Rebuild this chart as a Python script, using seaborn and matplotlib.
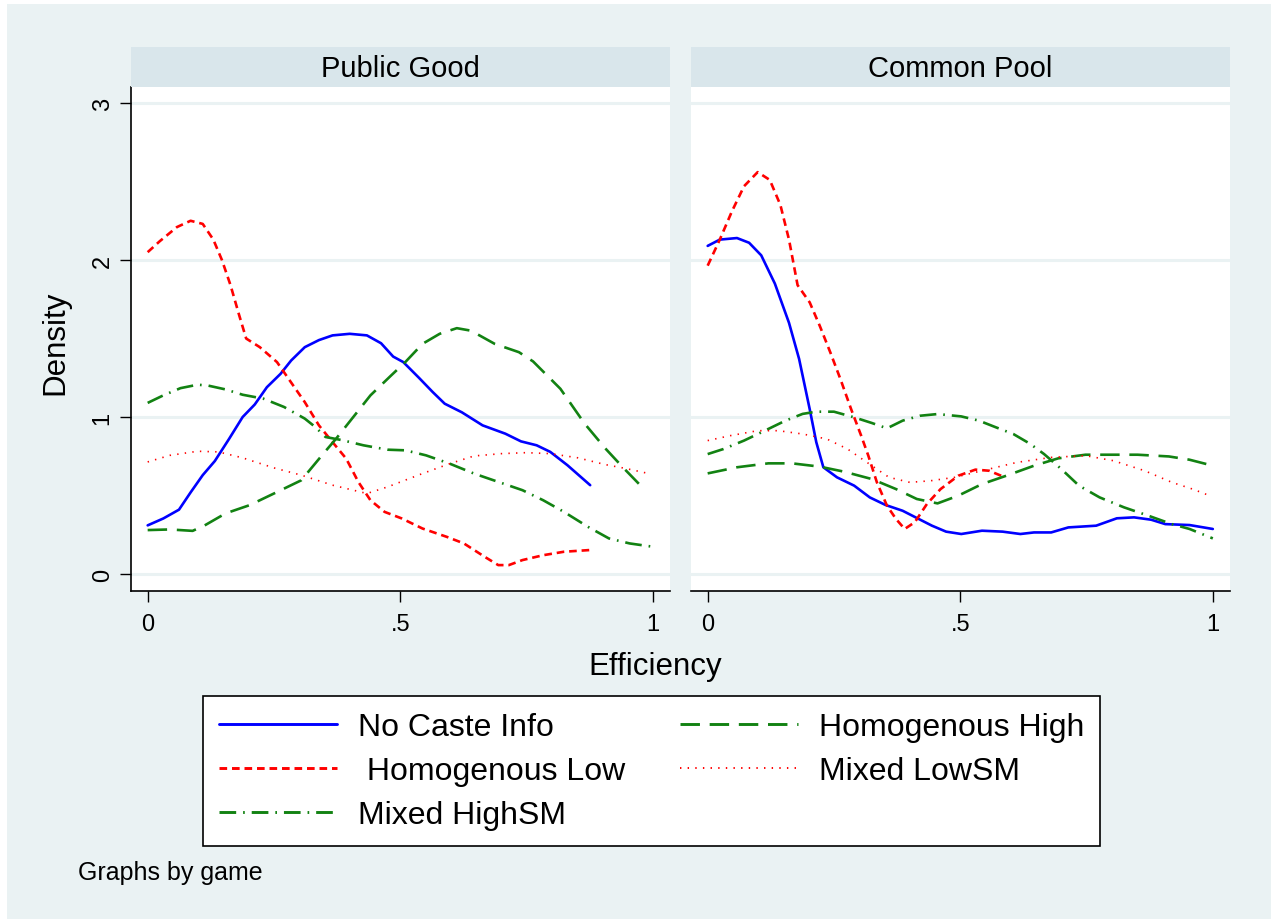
import matplotlib
matplotlib.use("Agg")
import matplotlib.pyplot as plt
from matplotlib.lines import Line2D
from matplotlib.patches import Rectangle
import pandas as pd
import seaborn as sns

# densities, one small list per curve
games = ["Public Good", "Common Pool"]
groups = ["No Caste Info", " Homogenous Low", "Mixed HighSM", "Homogenous High", "Mixed LowSM"]

pg_nocaste_x = [0, .031, .062, .085, .109, .133, .161, .188, .212, .236, .263, .284, .311, .339, .366, .40,
                .434, .462, .486, .506, .537, .564, .588, .622, .663, .708, .739, .77, .797, .831, .876]
pg_nocaste_y = [.31, .354, .41, .52, .63, .72, .86, 1.0, 1.08, 1.19, 1.275, 1.36, 1.445, 1.49, 1.52, 1.53,
                1.52, 1.47, 1.385, 1.35, 1.25, 1.16, 1.085, 1.03, .947, .894, .845, .82, .778, .693, .566]
pg_homlow_x = [0, .024, .058, .085, .109, .13, .147, .164, .181, .195, .222, .256, .284, .311, .339, .366,
               .393, .417, .441, .469, .503, .544, .592, .626, .667, .694, .715, .742, .783, .824, .876]
pg_homlow_y = [2.05, 2.12, 2.21, 2.25, 2.23, 2.13, 2.0, 1.84, 1.65, 1.50, 1.445, 1.35, 1.22, 1.095, .947, .84,
               .735, .587, .47, .396, .354, .29, .237, .195, .11, .057, .057, .089, .12, .142, .153]
pg_mixhigh_x = [0, .031, .065, .099, .12, .154, .188, .229, .27, .311, .332, .352, .386, .427, .475, .51,
                .551, .598, .646, .694, .742, .783, .824, .872, .913, .954, 1.0]
pg_mixhigh_y = [1.09, 1.138, 1.184, 1.206, 1.20, 1.176, 1.142, 1.117, 1.064, .99, .936, .873, .852, .82, .792, .788,
                .756, .703, .64, .587, .534, .47, .396, .30, .227, .195, .174]
pg_homhigh_x = [0, .044, .089, .113, .154, .202, .25, .304, .345, .373, .407, .441, .482, .51, .544, .578,
                .612, .64, .687, .735, .763, .817, .865, .906, .94, .975]
pg_homhigh_y = [.28, .284, .275, .31, .386, .439, .513, .597, .756, .862, 1.0, 1.138, 1.265, 1.35, 1.466, 1.53,
                1.566, 1.55, 1.466, 1.413, 1.354, 1.18, .958, .80, .682, .566]
pg_mixlow_x = [0, .044, .099, .14, .188, .25, .304, .366, .434, .475, .544, .598, .646, .701, .749, .797,
               .852, .906, .947, .992]
pg_mixlow_y = [.714, .756, .782, .778, .74, .676, .63, .566, .513, .555, .64, .703, .752, .767, .773, .767,
               .74, .697, .672, .64]

cp_nocaste_x = [0, .024, .058, .082, .106, .133, .161, .181, .202, .215, .229, .256, .29, .321, .352, .386,
                .444, .472, .502, .543, .584, .619, .646, .68, .714, .769, .81, .844, .878, .906, .954, 1.0]
cp_nocaste_y = [2.09, 2.13, 2.14, 2.11, 2.03, 1.85, 1.60, 1.37, 1.05, .84, .68, .616, .563, .488, .44, .403,
                .308, .27, .255, .276, .27, .255, .265, .265, .297, .308, .355, .361, .346, .318, .312, .287]
cp_homlow_x = [0, .024, .048, .072, .099, .123, .144, .161, .178, .202, .222, .243, .263, .284, .304, .318,
               .335, .355, .373, .39, .41, .434, .461, .496, .53, .557, .581]
cp_homlow_y = [1.964, 2.13, 2.31, 2.47, 2.56, 2.51, 2.35, 2.13, 1.84, 1.73, 1.58, 1.41, 1.24, 1.05, .88, .754,
               .584, .435, .35, .287, .33, .446, .541, .626, .665, .658, .626]
cp_mixhigh_x = [0, .031, .072, .113, .154, .188, .215, .25, .29, .325, .355, .386, .42, .455, .502, .537,
                .571, .605, .639, .666, .70, .735, .776, .824, .872, .919, .954, 1.0]
cp_mixhigh_y = [.764, .796, .85, .913, .977, 1.02, 1.034, 1.034, .998, .962, .928, .977, 1.008, 1.019, 1.004, .977,
                .934, .892, .828, .764, .669, .563, .488, .425, .372, .318, .287, .227]
cp_homhigh_x = [0, .058, .12, .167, .222, .27, .325, .373, .414, .455, .496, .543, .591, .646, .694, .748,
                .796, .851, .913, .954, .988]
cp_homhigh_y = [.641, .68, .705, .705, .684, .652, .605, .541, .478, .45, .499, .573, .626, .69, .737, .76,
                .76, .76, .749, .728, .70]
cp_mixlow_x = [0, .044, .099, .14, .188, .236, .277, .325, .359, .40, .441, .489, .543, .612, .68, .748,
               .803, .865, .919, .96, .994]
cp_mixlow_y = [.85, .881, .913, .913, .892, .86, .796, .69, .616, .584, .594, .616, .658, .711, .743, .754,
               .722, .658, .584, .541, .499]

series = {
    ("Public Good", "No Caste Info"): (pg_nocaste_x, pg_nocaste_y),
    ("Public Good", " Homogenous Low"): (pg_homlow_x, pg_homlow_y),
    ("Public Good", "Mixed HighSM"): (pg_mixhigh_x, pg_mixhigh_y),
    ("Public Good", "Homogenous High"): (pg_homhigh_x, pg_homhigh_y),
    ("Public Good", "Mixed LowSM"): (pg_mixlow_x, pg_mixlow_y),
    ("Common Pool", "No Caste Info"): (cp_nocaste_x, cp_nocaste_y),
    ("Common Pool", " Homogenous Low"): (cp_homlow_x, cp_homlow_y),
    ("Common Pool", "Mixed HighSM"): (cp_mixhigh_x, cp_mixhigh_y),
    ("Common Pool", "Homogenous High"): (cp_homhigh_x, cp_homhigh_y),
    ("Common Pool", "Mixed LowSM"): (cp_mixlow_x, cp_mixlow_y),
}

rows = []
for (g, grp), (xs, ys) in series.items():
    for x, y in zip(xs, ys):
        rows.append({"game": g, "group": grp, "Efficiency": x, "Density": y})
df = pd.DataFrame(rows)

# stata s2color look
bg = "#EAF2F3"
strip = "#D9E6EB"
styles = {
    "No Caste Info": dict(color="#0000FF", ls="-", lw=1.9),
    " Homogenous Low": dict(color="#FF0000", ls=(0, (5.5, 3.5)), lw=1.9),
    "Mixed HighSM": dict(color="#128212", ls=(0, (12, 5, 1.2, 5)), lw=1.9),
    "Homogenous High": dict(color="#128212", ls=(0, (14, 7)), lw=1.9),
    "Mixed LowSM": dict(color="#FF0000", ls=(0, (1, 4.5)), lw=1.2),
}

sns.set_theme(style="white")
plt.rcParams["font.family"] = ["Liberation Sans", "DejaVu Sans"]
plt.rcParams["lines.scale_dashes"] = False

W, H = 1271, 920
fig = plt.figure(figsize=(W / 100, H / 100), dpi=100, facecolor="white")
fig.patches.append(Rectangle((7 / W, 0), 1, 1 - 5 / H, transform=fig.transFigure,
                             facecolor=bg, edgecolor="none", zorder=-10))


def box(x0, y0, x1, y1):
    return [x0 / W, 1 - y1 / H, (x1 - x0) / W, (y1 - y0) / H]


panels = {"Public Good": (131, 670), "Common Pool": (691, 1230)}
for i, g in enumerate(games):
    x0, x1 = panels[g]
    ax = fig.add_axes(box(x0, 88, x1, 592))
    ax.set_facecolor("white")
    sub = df[df["game"] == g]
    for grp in groups:
        st = styles[grp]
        sns.lineplot(data=sub[sub["group"] == grp], x="Efficiency", y="Density", ax=ax,
                     estimator=None, sort=False, color=st["color"], linestyle=st["ls"],
                     linewidth=st["lw"], legend=False)
    ax.set_xlim(-0.033, 1.034)
    ax.set_ylim(-0.108, 3.102)
    ax.set_yticks([0, 1, 2, 3])
    ax.set_xticks([0, .5, 1])
    ax.set_xticklabels(["0", ".5", "1"])
    ax.grid(axis="y", color=bg, lw=2.2)
    ax.grid(axis="x", visible=False)
    ax.set_axisbelow(True)
    ax.set_xlabel("")
    ax.set_ylabel("")
    for s in ["top", "right"]:
        ax.spines[s].set_visible(False)
    ax.spines["bottom"].set_color("black")
    ax.spines["bottom"].set_linewidth(1.2)
    ax.tick_params(axis="x", bottom=True, direction="out", length=8, width=1, color="black",
                   labelsize=17, pad=8, labelcolor="black")
    if i == 0:
        ax.spines["left"].set_color("black")
        ax.spines["left"].set_linewidth(1.2)
        ax.tick_params(axis="y", left=True, direction="out", length=8, width=1, color="black",
                       labelsize=17, pad=4.5, labelcolor="black")
        for lab in ax.get_yticklabels():
            lab.set_rotation(90)
            lab.set_va("center")
    else:
        ax.spines["left"].set_visible(False)
        ax.tick_params(axis="y", left=False, labelleft=False)

    sax = fig.add_axes(box(x0, 48, x1, 88))
    sax.set_facecolor(strip)
    sax.set_xticks([])
    sax.set_yticks([])
    for s in sax.spines.values():
        s.set_visible(False)
    sax.text(0.5, 0.48, g, ha="center", va="center", fontsize=21, color="black",
             transform=sax.transAxes)

fig.text(55 / W, 1 - 343 / H, "Density", rotation=90, ha="center", va="center", fontsize=22.5,
         color="black")
fig.text(655 / W, 1 - 667 / H, "Efficiency", ha="center", va="center", fontsize=22.5, color="black")
fig.text(78 / W, 1 - 873 / H, "Graphs by game", ha="left", va="center", fontsize=18, color="black")

handles = [Line2D([], [], color=styles[g]["color"], linestyle=styles[g]["ls"],
                  linewidth=styles[g]["lw"] + 0.2) for g in groups]
leg = fig.legend(handles, groups, ncol=2, loc="upper left", bbox_to_anchor=(203 / W, 1 - 697 / H),
                 fontsize=23, frameon=True, fancybox=False, framealpha=1, edgecolor="black",
                 handlelength=3.7, handletextpad=0.64, columnspacing=1.73, labelspacing=0.44,
                 borderpad=0.5, borderaxespad=0)
leg.get_frame().set_linewidth(1.2)
for t in leg.get_texts():
    t.set_color("black")

fig.savefig("out.png", dpi=100, facecolor=fig.get_facecolor())
